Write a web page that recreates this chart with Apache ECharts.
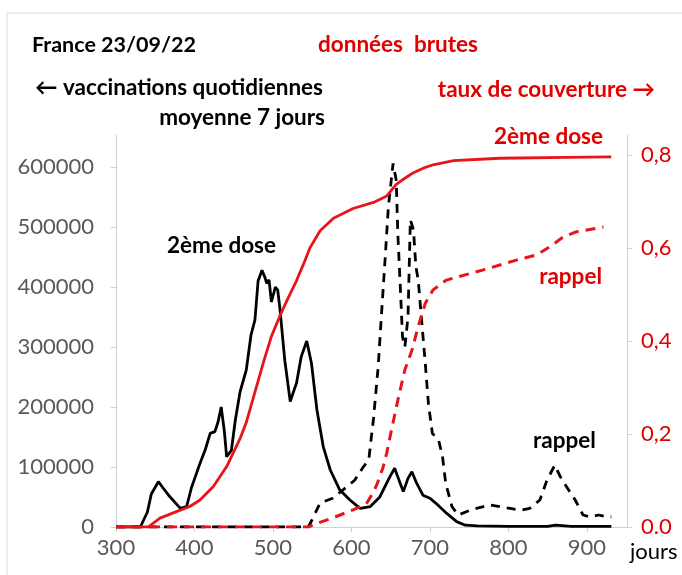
<!DOCTYPE html>
<html>
<head>
<meta charset="utf-8">
<title>France 23/09/22</title>
<script src="https://cdn.jsdelivr.net/npm/echarts@6/dist/echarts.min.js"></script>
<style>
html, body { margin: 0; padding: 0; background: #fff; }
#main { width: 682px; height: 575px; }
</style>
</head>
<body>
<div id="main"></div>
<script>
// ticks
var xTicks = [300, 400, 500, 600, 700, 800, 900]
var leftTicks = [0, 100000, 200000, 300000, 400000, 500000, 600000]
var rightTicks = [0, 0.2, 0.4, 0.6, 0.8]

// vaccinations quotidiennes, 2eme dose (moyenne 7 jours)
var dose2Days = [300, 331, 340, 345, 354, 360, 367, 382, 390, 396, 407, 414, 420, 426, 430, 434, 438, 441, 447, 452, 458, 466, 472, 477, 481, 486, 490, 492, 495, 498, 503, 506, 509, 515, 522, 526, 530, 536, 543, 549, 556, 564, 573, 585, 598, 611, 624, 636, 649, 655, 662, 666, 672, 677, 683, 691, 700, 708, 721, 734, 745, 760, 800, 850, 860, 880, 931]
var dose2Daily = [0, 0, 25000, 55000, 75500, 65000, 53000, 31000, 34000, 65000, 106000, 130000, 156000, 159000, 175000, 200000, 160000, 117000, 128000, 178000, 225000, 262000, 320000, 345000, 410000, 428000, 415000, 406000, 412000, 375000, 400000, 395000, 362000, 278000, 209000, 225000, 240000, 284000, 310000, 273000, 195000, 134000, 95000, 62000, 45000, 31000, 34000, 50000, 84000, 98000, 73000, 59000, 81000, 92000, 73000, 53000, 48000, 39000, 23000, 9000, 3000, 2000, 1000, 1000, 3000, 1000, 1000]

// vaccinations quotidiennes, rappel
var rappelDays = [300, 545, 549, 560, 576, 594, 604, 615, 622, 628, 634, 638, 643, 647, 653, 657, 659, 662, 665, 668, 672, 675, 679, 682, 685, 689, 694, 698, 703, 711, 716, 720, 728, 736, 751, 768, 776, 789, 802, 815, 827, 840, 849, 859, 866, 874, 885, 895, 904, 915, 925, 931]
var rappelDaily = [0, 0, 10000, 40000, 48000, 67000, 78000, 100000, 112000, 180000, 267000, 350000, 450000, 534000, 606000, 578000, 490000, 406000, 317000, 300000, 350000, 512000, 495000, 434000, 412000, 350000, 273000, 206000, 156000, 145000, 117000, 73000, 34000, 20000, 28000, 34000, 37000, 34000, 31000, 28000, 31000, 45000, 78000, 103000, 84000, 67000, 45000, 20000, 17000, 20000, 17000, 17000]

// taux de couverture, 2eme dose
var dose2CoverDays = [300, 341, 356, 377, 394, 407, 424, 441, 458, 466, 477, 488, 498, 509, 520, 530, 540, 547, 560, 577, 602, 628, 645, 657, 668, 679, 692, 704, 730, 789, 874, 931]
var dose2Cover = [0, 0, 0.019, 0.033, 0.044, 0.058, 0.087, 0.13, 0.19, 0.225, 0.29, 0.355, 0.41, 0.455, 0.495, 0.53, 0.57, 0.6, 0.637, 0.664, 0.685, 0.698, 0.712, 0.737, 0.75, 0.762, 0.772, 0.779, 0.788, 0.793, 0.795, 0.796]

// taux de couverture, rappel
var rappelCoverDays = [300, 545, 556, 577, 602, 619, 628, 632, 640, 645, 651, 660, 668, 677, 685, 694, 704, 721, 736, 768, 810, 836, 853, 870, 887, 921]
var rappelCover = [0, 0, 0.008, 0.02, 0.037, 0.05, 0.075, 0.09, 0.127, 0.16, 0.209, 0.28, 0.338, 0.38, 0.431, 0.481, 0.51, 0.531, 0.538, 0.553, 0.574, 0.585, 0.603, 0.624, 0.635, 0.645]

function pairs (xs, ys) {
  return xs.map(function (x, i) { return [x, ys[i]] })
}

var RED = '#e8141c'
var RED_TEXT = '#e00000'
var GREY = '#595959'
var AXIS = '#d0d0d0'
var FONT = 'Lato, "Open Sans", sans-serif'

function label (text, x, y, color, align, size) {
  return {
    type: 'text',
    x: x,
    y: y,
    style: {
      text: text,
      fill: color,
      font: 'bold ' + (size || 22.5) + 'px ' + FONT,
      textAlign: align || 'left',
      textVerticalAlign: 'middle'
    }
  }
}

var myChart = echarts.init(document.getElementById('main'))
myChart.setOption({
  animation: false,
  grid: { left: 116, right: 55, top: 135, bottom: 48 },
  xAxis: {
    type: 'value',
    min: 300,
    max: 951,
    axisLine: { lineStyle: { color: AXIS } },
    axisTick: { show: true, length: 5, lineStyle: { color: AXIS }, customValues: xTicks },
    axisLabel: { color: GREY, fontSize: 22, fontFamily: FONT, margin: 10, customValues: xTicks },
    splitLine: { show: false }
  },
  yAxis: [
    {
      type: 'value',
      min: 0,
      max: 653333,
      axisLine: { show: true, lineStyle: { color: AXIS } },
      axisTick: { show: true, length: 5, lineStyle: { color: AXIS }, customValues: leftTicks },
      axisLabel: {
        color: GREY,
        fontSize: 22,
        fontFamily: FONT,
        margin: 22,
        customValues: leftTicks,
        formatter: function (v) { return String(v) }
      },
      splitLine: { show: false }
    },
    {
      type: 'value',
      min: 0,
      max: 0.843,
      position: 'right',
      axisLine: { show: true, lineStyle: { color: AXIS } },
      axisTick: { show: true, length: 5, lineStyle: { color: AXIS }, customValues: rightTicks },
      axisLabel: {
        color: RED_TEXT,
        fontSize: 22,
        fontFamily: FONT,
        margin: 14,
        customValues: rightTicks,
        formatter: function (v) {
          // 0 garde le point, les autres la virgule
          return v === 0 ? '0.0' : v.toFixed(1).replace('.', ',')
        }
      },
      splitLine: { show: false }
    }
  ],
  series: [
    {
      name: '2ème dose',
      type: 'line',
      yAxisIndex: 0,
      symbol: 'none',
      data: pairs(dose2Days, dose2Daily),
      lineStyle: { color: '#000', width: 2.8 },
      z: 3
    },
    {
      name: 'rappel',
      type: 'line',
      yAxisIndex: 0,
      symbol: 'none',
      data: pairs(rappelDays, rappelDaily),
      lineStyle: { color: '#000', width: 2.8, type: [9, 7] },
      z: 3
    },
    {
      name: 'couverture 2ème dose',
      type: 'line',
      yAxisIndex: 1,
      symbol: 'none',
      data: pairs(dose2CoverDays, dose2Cover),
      lineStyle: { color: RED, width: 2.8 },
      z: 4
    },
    {
      name: 'couverture rappel',
      type: 'line',
      yAxisIndex: 1,
      symbol: 'none',
      data: pairs(rappelCoverDays, rappelCover),
      lineStyle: { color: RED, width: 3, type: [10, 7] },
      z: 4
    }
  ],
  graphic: [
    // cadre
    {
      type: 'rect',
      shape: { x: 7, y: 13, width: 700, height: 600 },
      style: { fill: 'none', stroke: '#d9d9d9', lineWidth: 1 },
      silent: true
    },
    label('France 23/09/22', 32, 45, '#000', 'left', 21.5),
    label('données  brutes', 318, 45, RED_TEXT),
    label('← vaccinations quotidiennes', 35, 88, '#000'),
    label('moyenne 7 jours', 325, 118, '#000', 'right'),
    label('taux de couverture →', 655, 90, RED_TEXT, 'right'),
    label('2ème dose', 603, 137, RED_TEXT, 'right'),
    label('2ème dose', 167, 246, '#000'),
    label('rappel', 602, 277, RED_TEXT, 'right'),
    label('rappel', 533, 441, '#000'),
    {
      type: 'text',
      x: 630,
      y: 552,
      style: { text: 'jours', fill: '#000', font: '22px ' + FONT, textVerticalAlign: 'middle' }
    }
  ]
})
</script>
</body>
</html>
